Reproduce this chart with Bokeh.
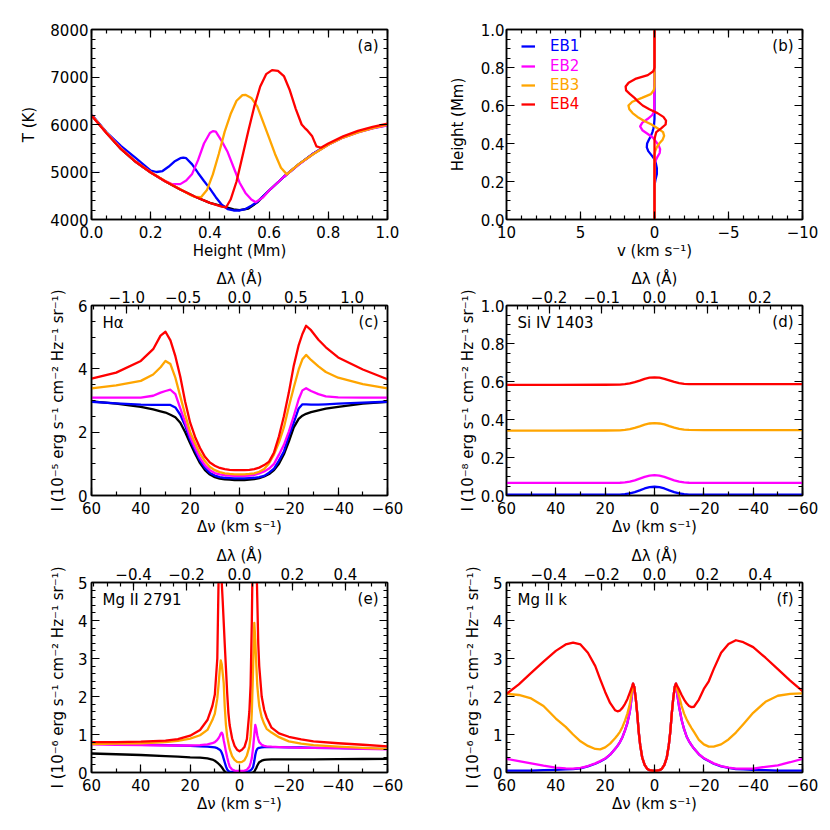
from bokeh.plotting import figure
from bokeh.models import (Range1d, LinearAxis, SingleIntervalTicker, CustomJSTickFormatter,
                          Label, Legend, LegendItem)
from bokeh.layouts import column, row
from bokeh.embed import file_html
from bokeh.resources import INLINE

# ---------------- Panel (a): temperature vs height ----------------
h_qs = [0.00,0.03,0.06,0.10,0.15,0.20,0.25,0.30,0.35,0.40,0.45,0.48,0.50,0.53,0.56,0.60,0.65,0.70,0.75,0.80,0.85,0.90,0.95,1.00]
T_qs = [6200,5980,5760,5480,5210,4990,4800,4630,4480,4350,4265,4215,4195,4230,4360,4610,4900,5160,5390,5580,5735,5845,5930,5990]

h_eb1 = [0.00,0.05,0.10,0.15,0.20,0.22,0.24,0.26,0.28,0.30,0.31,0.32,0.34,0.36,0.38,0.40,0.42,0.44,0.46,0.48,0.50,0.52,0.54,0.56,0.60,0.65,0.70,0.75,0.80,0.85,0.90,0.95,1.00]
T_eb1 = [6210,5840,5545,5290,5030,5000,5020,5110,5220,5290,5303,5290,5160,4980,4810,4650,4470,4310,4220,4190,4190,4220,4290,4370,4610,4900,5160,5390,5580,5730,5840,5925,5985]

h_eb2 = [0.00,0.05,0.10,0.15,0.20,0.24,0.27,0.30,0.32,0.34,0.36,0.38,0.40,0.41,0.42,0.44,0.46,0.48,0.50,0.52,0.54,0.555,0.58,0.60,0.65,0.70,0.75,0.80,0.85,0.90,0.95,1.00]
T_eb2 = [6200,5830,5500,5215,4995,4835,4750,4745,4820,4960,5250,5600,5820,5860,5850,5650,5420,5100,4780,4560,4420,4365,4470,4610,4900,5155,5385,5575,5725,5835,5920,5980]

h_eb3 = [0.00,0.05,0.10,0.15,0.20,0.25,0.30,0.33,0.35,0.37,0.39,0.41,0.43,0.45,0.47,0.49,0.51,0.52,0.54,0.56,0.58,0.60,0.62,0.64,0.66,0.68,0.70,0.75,0.80,0.85,0.90,0.95,1.00]
T_eb3 = [6200,5830,5490,5215,4995,4805,4635,4530,4475,4470,4620,4950,5380,5850,6220,6500,6620,6625,6560,6380,6050,5720,5380,5090,4950,5060,5165,5380,5575,5725,5835,5925,5995]

h_eb4 = [0.00,0.05,0.10,0.15,0.20,0.25,0.30,0.35,0.40,0.44,0.455,0.47,0.49,0.51,0.53,0.55,0.57,0.59,0.61,0.63,0.65,0.67,0.69,0.71,0.72,0.73,0.745,0.76,0.775,0.80,0.85,0.90,0.95,1.00]
T_eb4 = [6190,5820,5480,5210,4990,4800,4630,4480,4350,4270,4258,4420,4800,5330,5870,6380,6800,7060,7145,7130,7020,6720,6330,6000,5930,5870,5760,5540,5510,5600,5750,5865,5950,6020]

# ---------------- Panel (b): velocity vs height ----------------
hv_eb1 = [0.0,0.18,0.21,0.24,0.27,0.30,0.32,0.34,0.36,0.38,0.40,0.42,0.44,0.46,0.48,0.50,0.53,1.0]
v_eb1 = [0.0,0.0,-0.07,-0.16,-0.16,-0.08,0.02,0.22,0.42,0.52,0.50,0.38,0.24,0.14,0.07,0.03,0.0,0.0]
hv_eb2 = [0.0,0.29,0.31,0.33,0.35,0.37,0.39,0.41,0.43,0.45,0.47,0.49,0.51,0.53,0.55,0.57,1.0]
v_eb2 = [0.0,0.0,-0.08,-0.2,-0.35,-0.38,-0.28,-0.1,0.1,0.45,0.82,0.97,0.82,0.45,0.15,0.02,0.0]
hv_eb3 = [0.0,0.34,0.36,0.38,0.40,0.42,0.44,0.46,0.48,0.50,0.52,0.54,0.56,0.58,0.60,0.62,0.64,0.66,0.68,0.70,1.0]
v_eb3 = [0.0,0.0,-0.05,-0.15,-0.32,-0.55,-0.65,-0.58,-0.2,0.2,0.72,1.15,1.48,1.7,1.76,1.5,0.85,0.25,0.05,0.0,0.0]
hv_eb4 = [0.0,0.42,0.44,0.46,0.48,0.50,0.52,0.54,0.56,0.58,0.60,0.62,0.64,0.66,0.68,0.70,0.72,0.74,0.76,0.78,0.80,1.0]
v_eb4 = [0.0,0.0,-0.05,-0.12,-0.45,-0.75,-0.78,-0.6,-0.2,0.35,0.8,1.1,1.35,1.65,1.92,1.95,1.75,1.3,0.45,0.08,0.0,0.0]
legend_labels = ["EB1", "EB2", "EB3", "EB4"]

# ---------------- Panel (c): H-alpha ----------------
dv_ha = [60,50,40,35,32,30,28,26,24,22,20,18,16,14,12,10,8,6,4,2,0,
         -2,-4,-6,-8,-10,-12,-14,-16,-18,-20,-22,-24,-25.5,-27,-29,-32,-35,-40,-50,-60]
ha_qs = [2.97,2.9,2.8,2.72,2.66,2.62,2.55,2.47,2.3,2.0,1.65,1.32,1.02,0.8,0.66,0.58,0.53,0.51,0.5,0.49,0.49,
         0.49,0.5,0.52,0.55,0.6,0.68,0.8,1.0,1.3,1.7,2.15,2.42,2.52,2.58,2.63,2.69,2.74,2.8,2.9,2.96]
ha_eb1 = [2.96,2.91,2.87,2.86,2.86,2.86,2.86,2.78,2.55,2.2,1.75,1.42,1.1,0.87,0.71,0.63,0.58,0.56,0.55,0.54,0.54,
          0.54,0.55,0.56,0.58,0.62,0.72,0.85,1.1,1.39,1.88,2.3,2.75,2.88,2.88,2.87,2.87,2.88,2.9,2.93,2.96]
ha_eb2 = [3.09,3.09,3.09,3.15,3.25,3.3,3.34,3.2,2.75,2.3,1.85,1.5,1.18,0.95,0.8,0.71,0.67,0.64,0.63,0.62,0.62,
          0.62,0.63,0.65,0.7,0.76,0.85,1.0,1.29,1.6,2.02,2.51,3.04,3.32,3.39,3.3,3.2,3.13,3.1,3.09,3.09]
ha_eb3 = [3.38,3.48,3.62,3.82,4.05,4.25,4.15,3.72,3.13,2.54,2.0,1.65,1.32,1.08,0.9,0.8,0.74,0.7,0.68,0.67,0.67,
          0.67,0.68,0.70,0.75,0.84,1.02,1.30,1.68,2.15,2.8,3.41,3.98,4.3,4.44,4.28,4.08,3.9,3.72,3.52,3.38]
ha_eb4 = [3.69,3.88,4.25,4.62,5.05,5.17,4.90,4.40,3.75,2.95,2.30,1.85,1.50,1.22,1.04,0.94,0.87,0.83,0.81,0.80,0.80,
          0.80,0.81,0.83,0.88,0.96,1.07,1.36,1.87,2.5,3.25,4.1,4.75,5.1,5.36,5.22,4.92,4.68,4.36,3.98,3.67]

# ---------------- Panel (d): Si IV 1403 ----------------
dv_si = [60,40,20,14,12,10,8,6,4,2,0,-2,-4,-6,-8,-10,-12,-14,-20,-40,-60]
si_eb1 = [0.004,0.004,0.004,0.005,0.007,0.011,0.018,0.027,0.037,0.044,0.046,0.044,0.037,0.027,0.018,0.011,0.007,0.005,0.004,0.004,0.004]
si_eb2 = [0.066,0.066,0.066,0.067,0.069,0.073,0.080,0.089,0.098,0.105,0.107,0.105,0.098,0.089,0.080,0.073,0.069,0.067,0.066,0.066,0.066]
si_eb3 = [0.341,0.341,0.342,0.343,0.345,0.349,0.356,0.364,0.373,0.379,0.381,0.379,0.374,0.365,0.357,0.351,0.347,0.345,0.344,0.344,0.344]
si_eb4 = [0.582,0.582,0.583,0.584,0.586,0.590,0.597,0.605,0.614,0.620,0.621,0.620,0.614,0.606,0.598,0.592,0.588,0.586,0.586,0.586,0.586]

# ---------------- Panel (e): Mg II 2791 ----------------
dv_mg = [60,50,40,30,25,20,16,13,11,10,9,8.5,8,7.6,7.2,6.8,6.4,6,5.5,5,4.5,4,3,2,1,0,
         -1,-2,-3,-4,-4.5,-5,-5.5,-6,-6.4,-6.8,-7.2,-7.6,-8,-9,-10,-11,-13,-16,-20,-25,-30,-40,-50,-60]
mg_qs = [0.5,0.48,0.46,0.43,0.42,0.4,0.39,0.37,0.34,0.31,0.26,0.23,0.2,0.17,0.14,0.1,0.06,0.03,0.0,-0.01,-0.02,-0.03,-0.03,-0.03,-0.03,-0.03,
         -0.03,-0.03,-0.03,-0.03,-0.02,-0.01,0.0,0.02,0.07,0.12,0.18,0.23,0.27,0.31,0.33,0.34,0.345,0.345,0.345,0.345,0.345,0.35,0.355,0.36]
mg_eb1 = [0.76,0.75,0.73,0.72,0.71,0.7,0.69,0.68,0.67,0.66,0.64,0.62,0.6,0.57,0.52,0.45,0.36,0.27,0.16,0.08,0.04,0.02,0.01,0.01,0.01,0.01,
          0.01,0.01,0.02,0.04,0.06,0.09,0.14,0.3,0.46,0.57,0.62,0.64,0.65,0.66,0.67,0.67,0.67,0.67,0.66,0.66,0.65,0.64,0.63,0.62]
mg_eb2 = [0.74,0.73,0.72,0.71,0.71,0.71,0.72,0.74,0.77,0.8,0.86,0.9,0.96,1.02,1.05,1.0,0.85,0.72,0.55,0.4,0.27,0.16,0.08,0.05,0.04,0.04,
          0.04,0.05,0.07,0.15,0.25,0.38,0.65,1.0,1.25,1.15,0.98,0.88,0.8,0.73,0.7,0.69,0.68,0.67,0.66,0.65,0.65,0.64,0.62,0.61]
mg_eb3 = [0.75,0.76,0.77,0.8,0.83,0.89,0.98,1.12,1.38,1.55,1.95,2.3,2.7,2.95,2.85,2.6,2.35,1.75,1.25,0.95,0.78,0.62,0.43,0.33,0.28,0.27,
          0.28,0.32,0.45,0.68,0.95,1.6,2.7,3.94,3.5,2.85,2.3,2.0,1.75,1.45,1.28,1.15,1.05,0.93,0.82,0.76,0.72,0.68,0.65,0.62]
mg_eb4 = [0.80,0.80,0.81,0.84,0.88,0.97,1.12,1.38,1.75,2.05,3.0,5.0,6.8,7.0,5.0,4.5,3.95,3.4,2.75,2.1,1.57,1.25,0.9,0.7,0.6,0.56,
          0.6,0.67,0.88,1.6,2.3,4.0,6.5,7.5,7.0,5.8,4.6,3.4,2.8,2.0,1.65,1.45,1.18,1.03,0.94,0.87,0.82,0.77,0.73,0.69]

# ---------------- Panel (f): Mg II k ----------------
dv_k = [60,55,50,45,40,36,33,30,27,24,22,20,18,16,15,14,13,12,11,10,9,
        8.7,8.2,7.6,7,6.4,5.8,5,4,3,2,1,0,-1,-2,-3,-4,-5,-5.8,-6.4,-7,-7.6,-8.2,-8.7,
        -9,-10,-11,-12,-13,-14,-15,-16,-18,-20,-22,-24,-27,-30,-33,-36,-40,-45,-50,-55,-60]
k_core = [2.34,2.25,1.95,1.55,1.07,0.72,0.4,0.2,0.1,0.06,0.05,0.04,0.05,0.06,0.1,0.2,0.4,0.72,1.07,1.55,1.95,2.25,2.34]
k_eb1_blue = [0.05,0.05,0.05,0.06,0.07,0.08,0.09,0.11,0.16,0.23,0.29,0.36,0.47,0.62,0.7,0.8,0.93,1.1,1.3,1.6,2.1]
k_eb1_red = [2.15,1.72,1.38,1.14,0.95,0.82,0.72,0.63,0.48,0.37,0.3,0.23,0.16,0.12,0.09,0.08,0.07,0.06,0.05,0.05,0.05]
k_eb2_blue = [0.36,0.3,0.24,0.18,0.13,0.11,0.1,0.12,0.17,0.24,0.3,0.37,0.47,0.62,0.7,0.8,0.93,1.1,1.3,1.6,2.1]
k_eb2_red = [2.15,1.72,1.38,1.14,0.95,0.82,0.72,0.63,0.48,0.38,0.31,0.24,0.17,0.13,0.1,0.1,0.1,0.15,0.19,0.27,0.36]
k_eb3_blue = [2.07,2.04,1.95,1.75,1.42,1.2,1.0,0.82,0.7,0.62,0.61,0.66,0.76,0.9,0.98,1.07,1.2,1.36,1.55,1.8,2.2]
k_eb3_red = [2.25,2.0,1.75,1.55,1.4,1.28,1.17,1.07,0.86,0.74,0.68,0.68,0.74,0.87,1.05,1.27,1.57,1.86,2.02,2.07,2.08]
k_eb4_blue = [2.07,2.32,2.62,2.92,3.2,3.37,3.42,3.37,3.15,2.8,2.45,2.12,1.83,1.64,1.61,1.63,1.7,1.8,1.93,2.1,2.28]
k_eb4_red = [2.3,2.18,2.04,1.92,1.82,1.75,1.72,1.73,1.92,2.2,2.4,2.72,3.15,3.38,3.48,3.43,3.3,3.02,2.72,2.42,2.14]

# Rest wavelengths (Angstrom) used for the top Delta-lambda axes
C_KMS = 299792.458
lam_ha, lam_si, lam_mg, lam_k = 6562.8, 1402.77, 2791.6, 2796.35

FONT = "DejaVu Sans"
FS = "15px"
LW = 2.3
C_QS, C1, C2, C3, C4 = "black", "#0000ff", "#ff00ff", "#ffa500", "#ff0000"


def fmt(nd):
    return CustomJSTickFormatter(args=dict(nd=nd), code="""
const t = Math.round(tick * 1e6) / 1e6;
const s = Math.abs(t).toFixed(nd);
return (t < 0 ? "\\u2212" : "") + s;
""")


def blank_fmt():
    return CustomJSTickFormatter(code="return '';")


def tk(interval, nminor):
    return SingleIntervalTicker(interval=interval, num_minor_ticks=nminor)


def style_axis(ax, ticker, nd, labels=True):
    ax.ticker = ticker
    ax.formatter = fmt(nd) if labels else blank_fmt()
    ax.major_tick_in = 8
    ax.major_tick_out = 0
    ax.minor_tick_in = 4
    ax.minor_tick_out = 0
    ax.axis_line_color = "black"
    ax.axis_line_width = 1.5
    ax.major_tick_line_color = "black"
    ax.minor_tick_line_color = "black"
    ax.major_tick_line_width = 1.2
    ax.minor_tick_line_width = 1.2
    ax.major_label_text_font = FONT
    ax.major_label_text_font_size = FS
    ax.major_label_text_color = "black"
    ax.axis_label_text_font = FONT
    ax.axis_label_text_font_size = FS
    ax.axis_label_text_font_style = "normal"
    ax.axis_label_text_color = "black"
    if not labels:
        ax.major_label_standoff = 0


def panel(w, h, bl, br, bt, bb, xr, yr, xt, yt, xnd, ynd, xlabel, ylabel,
          ystand, ylab_stand, top=None):
    p = figure(width=w, height=h, x_range=xr, y_range=yr, output_backend="svg",
               toolbar_location=None, min_border_left=bl, min_border_right=br,
               min_border_top=bt, min_border_bottom=bb)
    p.grid.visible = False
    p.outline_line_color = "black"
    p.outline_line_width = 1.5
    p.background_fill_color = "white"
    p.border_fill_color = "white"
    xa = p.xaxis[0]
    style_axis(xa, tk(*xt), xnd)
    xa.axis_label = xlabel
    xa.major_label_standoff = 6
    xa.axis_label_standoff = 1
    ya = p.yaxis[0]
    style_axis(ya, tk(*yt), ynd)
    ya.axis_label = ylabel
    ya.major_label_standoff = ystand
    ya.axis_label_standoff = ylab_stand
    ra = LinearAxis()
    style_axis(ra, tk(*yt), ynd, labels=False)
    p.add_layout(ra, "right")
    if top is None:
        ta = LinearAxis()
        style_axis(ta, tk(*xt), xnd, labels=False)
        p.add_layout(ta, "above")
    else:
        lam0, tt, tnd = top
        dl = 60.0 / C_KMS * lam0
        p.extra_x_ranges = {"lam": Range1d(-dl, dl)}
        ta = LinearAxis(x_range_name="lam", axis_label="Δλ (Å)")
        style_axis(ta, tk(*tt), tnd)
        ta.major_label_standoff = 3
        ta.axis_label_standoff = 0
        p.add_layout(ta, "above")
    return p


def tag(p, text, fw=296, fh=190):
    p.add_layout(Label(x=fw - 9, y=fh - 16, x_units="screen", y_units="screen", text=text,
                       text_align="right", text_baseline="middle", text_font=FONT,
                       text_font_size=FS, text_color="black"))


def name(p, text, fh=190):
    p.add_layout(Label(x=11, y=fh - 17, x_units="screen", y_units="screen", text=text,
                       text_align="left", text_baseline="middle", text_font=FONT,
                       text_font_size=FS, text_color="black"))


YL = "I (10{} erg s⁻¹ cm⁻² Hz⁻¹ sr⁻¹)"
XL = "Δν (km s⁻¹)"

# (a)
pa = panel(415, 266, 91, 28, 29, 47, Range1d(0, 1), Range1d(4000, 8000), (0.2, 4), (1000, 5),
           1, 0, "Height (Mm)", "T (K)", 3, 9)
pa.line(h_qs, T_qs, color=C_QS, line_width=LW, line_join="round")
pa.line(h_eb1, T_eb1, color=C1, line_width=LW, line_join="round")
pa.line(h_eb2, T_eb2, color=C2, line_width=LW, line_join="round")
pa.line(h_eb3, T_eb3, color=C3, line_width=LW, line_join="round")
pa.line(h_eb4, T_eb4, color=C4, line_width=LW, line_join="round")
tag(pa, "(a)")

# (b)
pb = panel(407, 266, 91, 20, 29, 47, Range1d(10, -10), Range1d(0, 1), (5, 5), (0.2, 4),
           0, 1, "v (km s⁻¹)", "Height (Mm)", 2, 11)
rb = []
for hv, vv, c in [(hv_eb1, v_eb1, C1), (hv_eb2, v_eb2, C2), (hv_eb3, v_eb3, C3), (hv_eb4, v_eb4, C4)]:
    rb.append(pb.line(vv, hv, color=c, line_width=LW, line_join="round"))
for r, lbl, c, yl in zip(rb, legend_labels, [C1, C2, C3, C4], [164, 144, 125, 106]):
    lg = Legend(items=[LegendItem(label=lbl, renderers=[r])], location=(15, yl),
                label_text_color=c, label_text_font=FONT, label_text_font_size=FS,
                glyph_width=14, glyph_height=16, label_height=16, label_standoff=15,
                padding=0, margin=0, spacing=0, border_line_alpha=0, background_fill_alpha=0)
    pb.add_layout(lg)
tag(pb, "(b)")

# (c)
pc = panel(415, 272, 91, 28, 39, 43, Range1d(60, -60), Range1d(0, 6), (20, 2), (2, 4),
           0, 0, XL, YL.format("⁻⁵"), 4, 8, top=(lam_ha, (0.5, 5), 1))
for yy, c in [(ha_qs, C_QS), (ha_eb1, C1), (ha_eb2, C2), (ha_eb3, C3), (ha_eb4, C4)]:
    pc.line(dv_ha, yy, color=c, line_width=LW, line_join="round")
tag(pc, "(c)")
name(pc, "Hα")

# (d)
pd_ = panel(407, 272, 91, 20, 39, 43, Range1d(60, -60), Range1d(0, 1), (20, 2), (0.2, 4),
            0, 1, XL, YL.format("⁻⁸"), 2, 1, top=(lam_si, (0.1, 5), 1))
for yy, c in [(si_eb1, C1), (si_eb2, C2), (si_eb3, C3), (si_eb4, C4)]:
    pd_.line(dv_si, yy, color=c, line_width=LW, line_join="round")
tag(pd_, "(d)")
name(pd_, "Si IV  1403")

# (e)
pe = panel(415, 284, 91, 28, 44, 50, Range1d(60, -60), Range1d(0, 5), (20, 2), (1, 5),
           0, 0, XL, YL.format("⁻⁶"), 4, 8, top=(lam_mg, (0.2, 4), 1))
for yy, c in [(mg_qs, C_QS), (mg_eb1, C1), (mg_eb2, C2), (mg_eb3, C3), (mg_eb4, C4)]:
    pe.line(dv_mg, yy, color=c, line_width=LW, line_join="round")
tag(pe, "(e)")
name(pe, "Mg II  2791")

# (f)
pf = panel(407, 284, 91, 20, 44, 50, Range1d(60, -60), Range1d(0, 5), (20, 2), (1, 5),
           0, 0, XL, YL.format("⁻⁶"), 4, 8, top=(lam_k, (0.2, 4), 1))
for lb, rr, c in [(k_eb1_blue, k_eb1_red, C1), (k_eb2_blue, k_eb2_red, C2),
                  (k_eb3_blue, k_eb3_red, C3), (k_eb4_blue, k_eb4_red, C4)]:
    pf.line(dv_k, lb + k_core + rr, color=c, line_width=LW, line_join="round")
tag(pf, "(f)")
name(pf, "Mg II  k")

layout = column(row(pa, pb), row(pc, pd_), row(pe, pf))
open("out.html", "w", encoding="utf-8").write(file_html(layout, INLINE, title="EB profiles"))
